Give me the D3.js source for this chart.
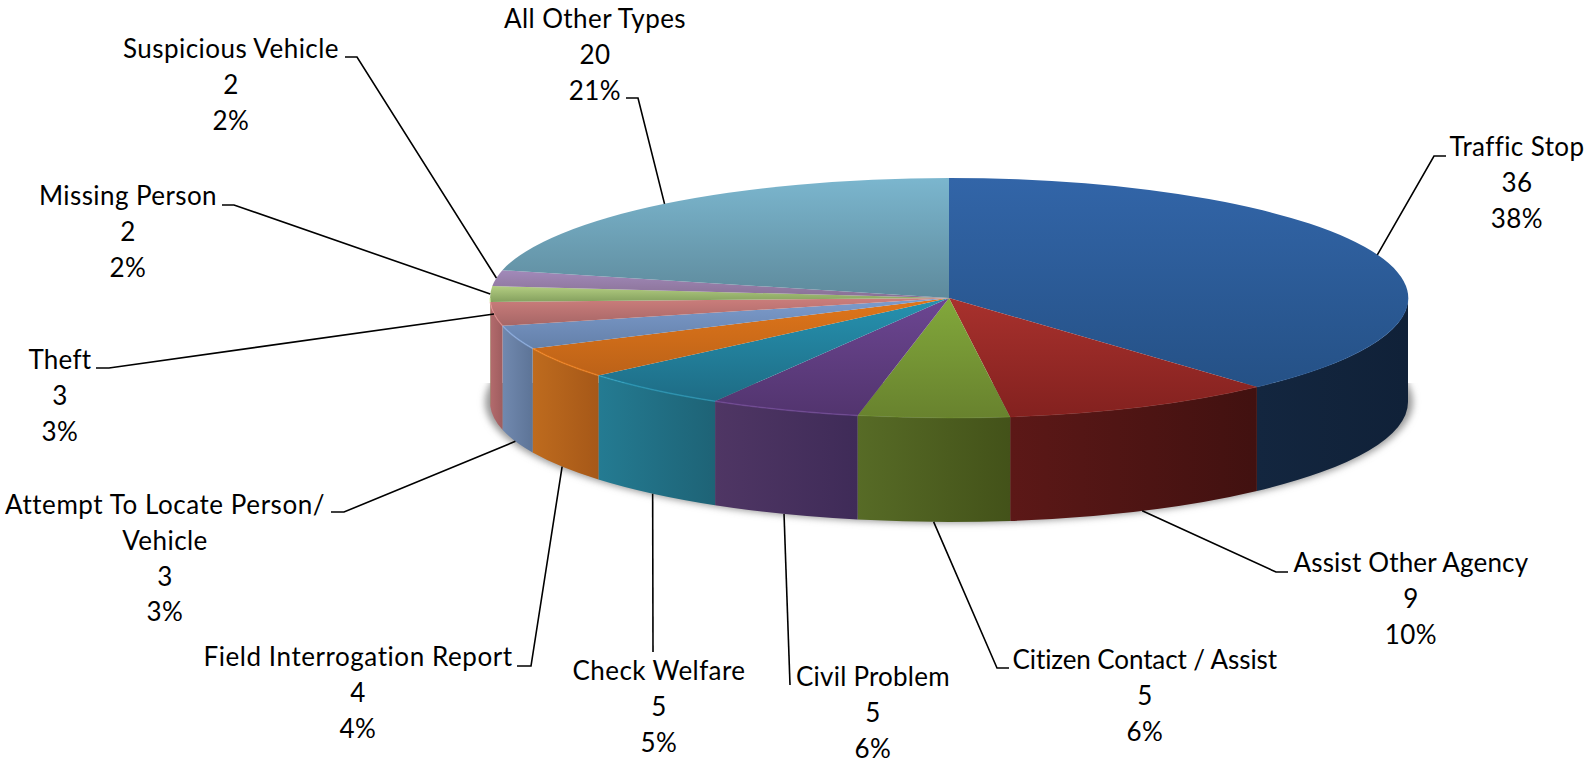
<!DOCTYPE html>
<html>

<head>
  <title>Calls by Type</title>

  <style>
    body,
    html {
      margin: 0;
      background: #fff;
    }

    text {
      font-family: Lato, sans-serif;
      font-size: 26px;
      letter-spacing: 0.45px;
      fill: #000;
      text-anchor: middle;
    }
  </style>
</head>


<body>

  <svg id="svg" width="1595" height="768"></svg>

  <script src="https://d3js.org/d3.v7.min.js"></script>

  <script>
    const categories = ['Traffic Stop', 'Assist Other Agency', 'Citizen Contact / Assist', 'Civil Problem', 'Check Welfare',
      'Field Interrogation Report', 'Attempt To Locate Person/\nVehicle', 'Theft', 'Missing Person', 'Suspicious Vehicle', 'All Other Types']
    const values = [36, 9, 5, 5, 5, 4, 3, 3, 2, 2, 20]
    const percents = ['38%', '10%', '6%', '6%', '5%', '4%', '3%', '3%', '2%', '2%', '21%']

    // [light, dark] for the top face and for the wall
    const topColors = [['#3265a8', '#255186'], ['#a8312d', '#83211f'], ['#82a83b', '#68822e'], ['#6c4692', '#52346e'],
      ['#2692b0', '#1e6c85'], ['#e0761a', '#bc6218'], ['#7d9ccd', '#6480a9'], ['#cc7e7c', '#a66666'],
      ['#b4ce82', '#84a05e'], ['#a28aba', '#887094'], ['#7bb6ce', '#5e8a9c']]
    const wallColors = [['#13263f', '#102138'], ['#5c1817', '#411110'], ['#576b26', '#435219'], ['#4f3664', '#3f2b58'],
      ['#247b92', '#1e6376'], ['#be6b1e', '#a65818'], ['#7189af', '#5d7497'], ['#b36b6d', '#9f5d5f'],
      ['#84a05e', '#84a05e'], ['#887094', '#887094'], ['#5e8a9c', '#5e8a9c']]

    // label layout, same order as categories: centre x, first baseline, width of the name line,
    // leader points from label to pie, and whether the leader ends on the top rim or on the bottom rim
    const labelX = [1517, 1411, 1145, 873, 659, 358, 165, 60, 128, 231, 595]
    const labelY = [156, 572, 669, 686, 680, 666, 514, 369, 205, 58, 28]
    const nameWidths = [135, 235, 265, 154, 173, 309, 320, 63, 178, 216, 182]
    const leaderPoints = [
      [[1446, 156], [1434, 156]], [[1288, 572], [1276, 572]], [[1009, 668], [997, 668]], [[790, 685]], [[653, 652]],
      [[517, 666], [531, 666]], [[331, 512], [344, 512]], [[96, 368], [109, 368]], [[222, 205], [234, 205]],
      [[345, 57], [357, 57]], [[626, 98], [638, 98]]]
    const leaderOnTop = [true, false, false, false, false, false, false, true, true, true, true]

    const width = 1595
    const height = 768
    const cx = 949
    const cy = 298
    const rx = 459
    const ry = 120
    const depth = 104
    const lineGap = 35.8

    const svg = d3.select("#svg")
    const defs = svg.append("defs")

    function addGradient(id, colors, horizontal) {
      const grad = defs.append("linearGradient")
        .attr("id", id)
        .attr("x1", 0).attr("y1", 0)
        .attr("x2", horizontal ? 1 : 0).attr("y2", horizontal ? 0 : 1)
      grad.append("stop").attr("offset", "0%").attr("stop-color", colors[0])
      grad.append("stop").attr("offset", "100%").attr("stop-color", colors[1])
    }

    topColors.forEach((c, i) => addGradient(`top${i}`, c, false))
    wallColors.forEach((c, i) => addGradient(`wall${i}`, c, true))

    defs.append("filter").attr("id", "blur")
      .attr("x", "-5%").attr("y", "-10%").attr("width", "110%").attr("height", "120%")
      .append("feGaussianBlur").attr("stdDeviation", 3.5)
    defs.append("filter").attr("id", "soft")
      .attr("x", "-5%").attr("y", "-5%").attr("width", "110%").attr("height", "110%")
      .append("feGaussianBlur").attr("stdDeviation", 0.5)
    defs.append("clipPath").attr("id", "shadowClip")
      .append("rect").attr("x", 0).attr("y", 383).attr("width", width).attr("height", height)

    const arcs = d3.pie().sort(null).startAngle(0).endAngle(2 * Math.PI)(values)

    const rimX = a => cx + rx * Math.sin(a)
    const rimY = (a, drop) => cy - ry * Math.cos(a) + drop

    // shadow under the disc
    svg.append("g").attr("clip-path", "url(#shadowClip)")
      .append("ellipse")
      .attr("cx", cx).attr("cy", cy + depth)
      .attr("rx", rx + 5).attr("ry", ry + 1)
      .attr("fill", "#999")
      .attr("filter", "url(#blur)")

    // walls, only the front half of the disc is visible
    function wallPath(d) {
      const a0 = Math.max(d.startAngle, Math.PI / 2)
      const a1 = Math.min(d.endAngle, 3 * Math.PI / 2)
      if (a1 <= a0) return null
      return `M${rimX(a0)},${rimY(a0, 0)}A${rx},${ry} 0 0 1 ${rimX(a1)},${rimY(a1, 0)}` +
        `L${rimX(a1)},${rimY(a1, depth)}A${rx},${ry} 0 0 0 ${rimX(a0)},${rimY(a0, depth)}Z`
    }

    svg.append("g").selectAll("path")
      .data(arcs)
      .join("path")
      .attr("d", wallPath)
      .attr("fill", (d, i) => `url(#wall${i})`)

    // top faces
    const arcGen = d3.arc().innerRadius(0).outerRadius(1)
    svg.append("g")
      .attr("transform", `translate(${cx},${cy}) scale(${rx},${ry})`)
      .selectAll("path")
      .data(arcs)
      .join("path")
      .attr("d", arcGen)
      .attr("fill", (d, i) => `url(#top${i})`)

    // bevel highlight on the front edge
    function rimPath(d) {
      const a0 = Math.max(d.startAngle, Math.PI / 2)
      const a1 = Math.min(d.endAngle, 3 * Math.PI / 2)
      if (a1 <= a0) return null
      return `M${rimX(a0)},${rimY(a0, 0)}A${rx},${ry} 0 0 1 ${rimX(a1)},${rimY(a1, 0)}`
    }

    svg.append("g").selectAll("path")
      .data(arcs)
      .join("path")
      .attr("d", rimPath)
      .attr("fill", "none")
      .attr("stroke", (d, i) => d3.color(topColors[i][0]).brighter(0.4))
      .attr("stroke-opacity", (d, i) => i < 3 ? 0.12 : 0.55)
      .attr("stroke-width", 1.5)
      .attr("filter", "url(#soft)")

    // leader lines, each one ends on the rim at the middle of its slice
    const lineGen = d3.line()
    svg.append("g").selectAll("path")
      .data(arcs)
      .join("path")
      .attr("d", (d, i) => {
        const mid = (d.startAngle + d.endAngle) / 2
        const end = [rimX(mid), rimY(mid, leaderOnTop[i] ? 0 : depth)]
        return lineGen(leaderPoints[i].concat([end]))
      })
      .attr("fill", "none")
      .attr("stroke", "#000")
      .attr("stroke-width", 1.6)

    // labels
    categories.forEach((name, i) => {
      const lines = name.split("\n").concat([String(values[i]), percents[i]])
      lines.forEach((line, j) => {
        const label = svg.append("text")
          .attr("x", labelX[i])
          .attr("y", labelY[i] + j * lineGap)
          .text(line)
        if (j === 0) label.attr("textLength", nameWidths[i])
      })
    })
  </script>

</body>
